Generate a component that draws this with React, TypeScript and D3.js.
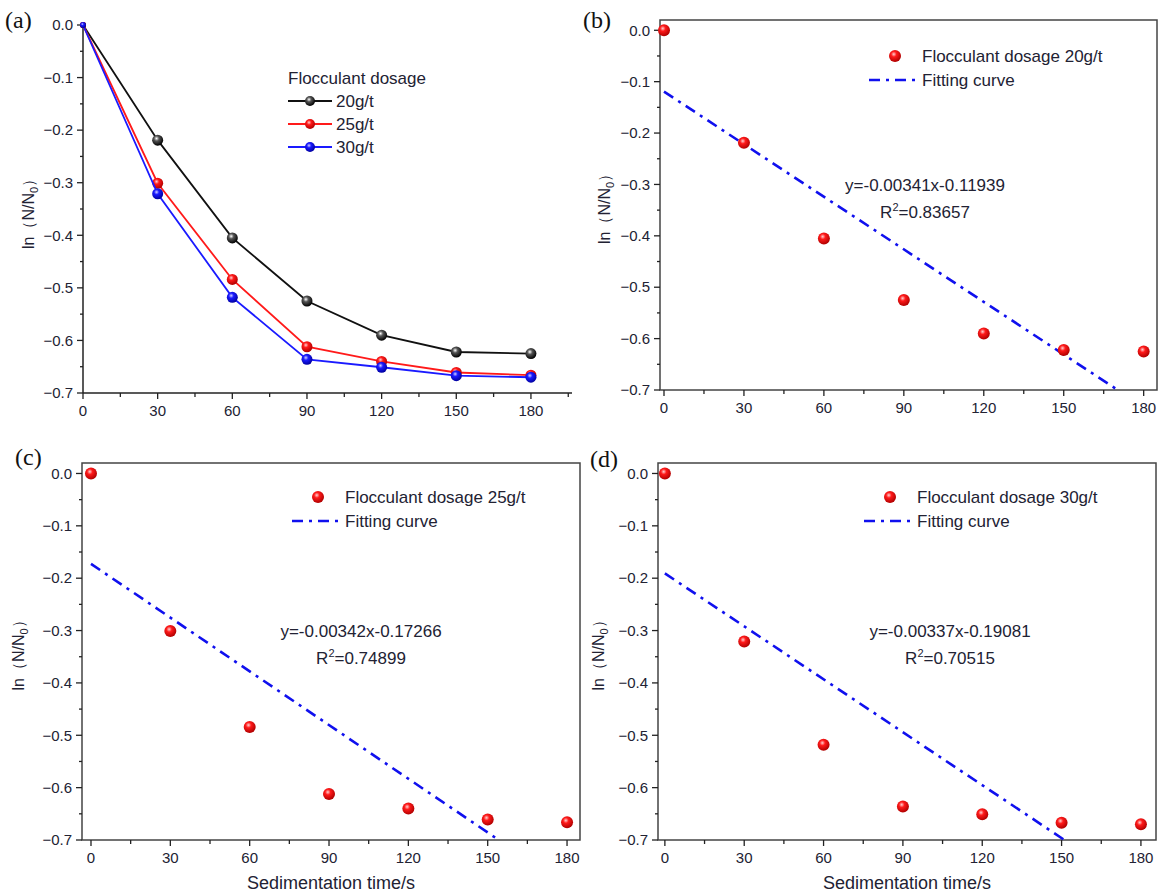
import React from 'react';
import * as d3 from 'd3';

// sampling times (s)
const times = [0, 30, 60, 90, 120, 150, 180];

// ln(N/N0) per flocculant dosage
const dose20 = [0, -0.219, -0.405, -0.525, -0.59, -0.622, -0.625];
const dose25 = [0, -0.301, -0.484, -0.612, -0.64, -0.661, -0.666];
const dose30 = [0, -0.321, -0.518, -0.636, -0.651, -0.667, -0.67];

const doseNames = ['20g/t', '25g/t', '30g/t'];
const doseColors = ['#111111', '#ff1a1a', '#1a1aff'];

// linear fits shown in panels b, c, d
const fitSlopes = [-0.00341, -0.00342, -0.00337];
const fitIntercepts = [-0.11939, -0.17266, -0.19081];
const fitR2 = ['0.83657', '0.74899', '0.70515'];

const yTicks = [0, -0.1, -0.2, -0.3, -0.4, -0.5, -0.6, -0.7];
const yMinor = [-0.05, -0.15, -0.25, -0.35, -0.45, -0.55, -0.65];
const xTicks = [0, 30, 60, 90, 120, 150, 180];

const FONT = 'Liberation Sans, Arial, sans-serif';
const TXT = '#222233';

const Ball = ({ cx, cy, r, grad }: any) => (
  <circle cx={cx} cy={cy} r={r} fill={`url(#${grad})`} />
);

const YTitle = ({ x, y }: any) => (
  <text transform={`translate(${x},${y}) rotate(-90)`} textAnchor="middle"
    fontFamily={FONT} fontSize={16} fill={TXT}>
    ln（N/N<tspan fontSize={11} dy={4}>0</tspan><tspan dy={-4}>）</tspan>
  </text>
);

const Axes = ({ x, y, xMinor, frame }: any) => {
  const [x0, x1] = x.range();
  const [yb, yt] = y.range();
  return (
    <g fontFamily={FONT} fill={TXT} fontSize={15}>
      {frame && <rect x={x0} y={yt} width={x1 - x0} height={yb - yt} fill="none" stroke="#444" strokeWidth={1.5} />}
      {!frame && <line x1={x0} x2={x0} y1={yt} y2={yb} stroke="#222" strokeWidth={1.5} />}
      {!frame && <line x1={x0} x2={x1} y1={yb} y2={yb} stroke="#222" strokeWidth={1.5} />}
      {yTicks.map(t => (
        <g key={t}>
          <line x1={x0 - 6} x2={x0} y1={y(t)} y2={y(t)} stroke="#222" strokeWidth={1.3} />
          <text x={x0 - 10} y={y(t)} dy="0.35em" textAnchor="end">{d3.format('.1f')(t)}</text>
        </g>
      ))}
      {yMinor.map(t => (
        <line key={t} x1={x0 - 3} x2={x0} y1={y(t)} y2={y(t)} stroke="#222" strokeWidth={1.3} />
      ))}
      {xTicks.map(t => (
        <g key={t}>
          <line x1={x(t)} x2={x(t)} y1={yb} y2={yb + 6} stroke="#222" strokeWidth={1.3} />
          <text x={x(t)} y={yb + 23} textAnchor="middle">{t}</text>
        </g>
      ))}
      {xMinor.map((t: number) => (
        <line key={t} x1={x(t)} x2={x(t)} y1={yb} y2={yb + 4} stroke="#222" strokeWidth={1.3} />
      ))}
    </g>
  );
};

const PanelA = () => {
  const x = d3.scaleLinear().domain([0, 196.5]).range([83, 572]);
  const y = d3.scaleLinear().domain([-0.7, 0]).range([393, 25]);
  const series = [dose20, dose25, dose30];
  const line = d3.line<number>().x((_, i) => x(times[i])).y(d => y(d));
  return (
    <g>
      <Axes x={x} y={y} xMinor={[15, 45, 75, 105, 135, 165, 195]} frame={false} />
      {series.map((s, k) => (
        <g key={k}>
          <path d={line(s) || ''} fill="none" stroke={doseColors[k]} strokeWidth={1.8} />
          {s.map((v, i) => (
            <Ball key={i} cx={x(times[i])} cy={y(v)} r={i === 0 ? 3 : 5.5} grad={`g${k}`} />
          ))}
        </g>
      ))}
      <g fontFamily={FONT} fontSize={17} fill={TXT}>
        <text x={288} y={84}>Flocculant dosage</text>
        {doseNames.map((n, k) => (
          <g key={n} transform={`translate(0,${101 + k * 23})`}>
            <line x1={288} x2={332} y1={0} y2={0} stroke={doseColors[k]} strokeWidth={1.8} />
            <Ball cx={310} cy={0} r={5} grad={`g${k}`} />
            <text x={336} y={0} dy="0.35em">{n}</text>
          </g>
        ))}
      </g>
      <YTitle x={34} y={210} />
      <text x={5} y={28} fontFamily="Liberation Serif, Times New Roman, serif" fontSize={24} fill="#111">(a)</text>
    </g>
  );
};

const FitPanel = ({ k, data, xr, xd, yr, label, labelPos, showX, eqPos, legPos, titleX }: any) => {
  const x = d3.scaleLinear().domain(xd).range(xr);
  const y = d3.scaleLinear().domain([-0.7, 0.02]).range(yr);
  const slope = fitSlopes[k];
  const icpt = fitIntercepts[k];
  const xEnd = (-0.7 - icpt) / slope;
  const fitLine = d3.line<number>().x(d => x(d)).y(d => y(slope * d + icpt));
  return (
    <g>
      <Axes x={x} y={y} xMinor={[15, 45, 75, 105, 135, 165]} frame={true} />
      <path d={fitLine([0, xEnd]) || ''} fill="none" stroke="#1010ee" strokeWidth={2.6} strokeDasharray="11,6,3,6" />
      {data.map((v: number, i: number) => (
        <Ball key={i} cx={x(times[i])} cy={y(v)} r={6} grad="g1" />
      ))}
      <g fontFamily={FONT} fontSize={17} fill={TXT}>
        <Ball cx={legPos[0]} cy={legPos[1]} r={6} grad="g1" />
        <text x={legPos[0] + 27} y={legPos[1]} dy="0.35em">Flocculant dosage {doseNames[k]}</text>
        <line x1={legPos[0] - 26} x2={legPos[0] + 21} y1={legPos[1] + 24} y2={legPos[1] + 24}
          stroke="#1010ee" strokeWidth={2.6} strokeDasharray="11,6,3,6" />
        <text x={legPos[0] + 27} y={legPos[1] + 24} dy="0.35em">Fitting curve</text>
      </g>
      <g fontFamily={FONT} fontSize={17} fill={TXT} textAnchor="middle">
        <text x={eqPos[0]} y={eqPos[1]}>y={slope}x{icpt}</text>
        <text x={eqPos[0]} y={eqPos[1] + 27}>R<tspan fontSize={11} dy={-7}>2</tspan><tspan dy={7}>={fitR2[k]}</tspan></text>
      </g>
      {showX && (
        <text x={(xr[0] + xr[1]) / 2} y={889} textAnchor="middle" fontFamily={FONT} fontSize={18} fill={TXT}>
          Sedimentation time/s
        </text>
      )}
      <YTitle x={titleX} y={(yr[0] + yr[1]) / 2} />
      <text x={labelPos[0]} y={labelPos[1]} fontFamily="Liberation Serif, Times New Roman, serif" fontSize={24} fill="#111">{label}</text>
    </g>
  );
};

const App = () => {
  const stops = [
    ['#ffffff', '#555555', '#000000'],
    ['#ffd0d0', '#ff1a1a', '#b00000'],
    ['#d0d0ff', '#1a1aff', '#0000a0'],
  ];
  return (
    <svg width={1162} height={895} style={{ position: 'absolute', left: 0, top: 0, background: '#fff' }}>
      <defs>
        {stops.map((s, k) => (
          <radialGradient key={k} id={`g${k}`} cx="40%" cy="35%" r="65%">
            <stop offset="0%" stopColor={s[0]} />
            <stop offset="35%" stopColor={s[1]} />
            <stop offset="100%" stopColor={s[2]} />
          </radialGradient>
        ))}
      </defs>
      <PanelA />
      <FitPanel k={0} data={dose20} xr={[660, 1157]} xd={[-1.5, 185]} yr={[390, 20]} label="(b)"
        labelPos={[583, 28]} showX={false} eqPos={[925, 191]} legPos={[895, 56]} titleX={610} />
      <FitPanel k={1} data={dose25} xr={[82, 580]} xd={[-3.4, 184.9]} yr={[840, 463]} label="(c)"
        labelPos={[15, 465]} showX={true} eqPos={[361, 637]} legPos={[318, 497]} titleX={24} />
      <FitPanel k={2} data={dose30} xr={[658, 1156]} xd={[-2.6, 185.7]} yr={[840, 463]} label="(d)"
        labelPos={[590, 467]} showX={true} eqPos={[950, 637]} legPos={[890, 497]} titleX={604} />
    </svg>
  );
};

export default App;
